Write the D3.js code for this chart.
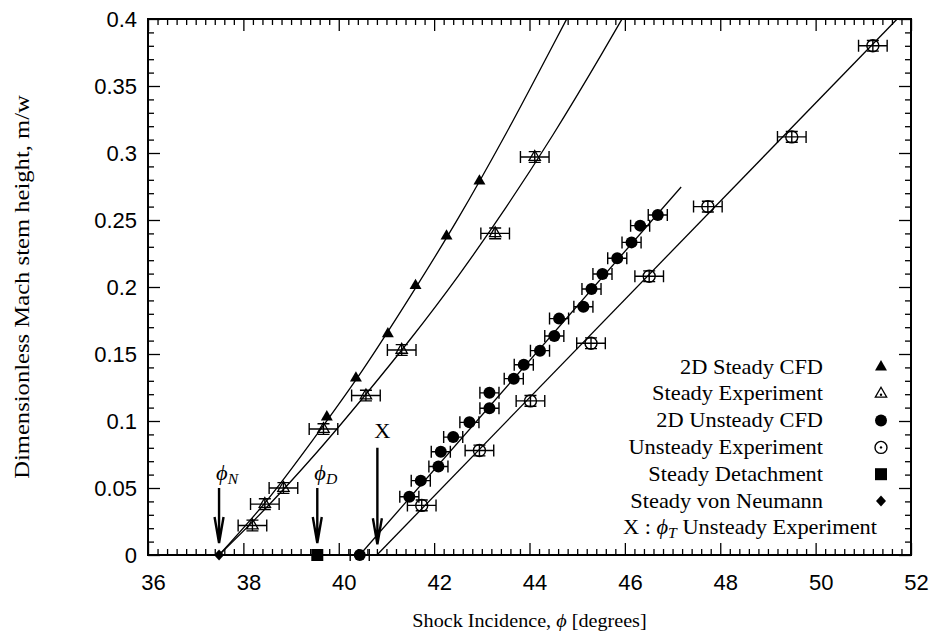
<!DOCTYPE html>
<html><head><meta charset="utf-8">
<script src="https://cdn.jsdelivr.net/npm/d3@7"></script>
<style>body{margin:0;background:#fff} svg{display:block}</style>
</head><body><svg id="c" width="933" height="639"></svg>
<script>
// ---------- data ----------
const steadyCFD = [[39.75,0.103],[40.36,0.132],[41.03,0.165],[41.61,0.201],[42.26,0.238],[42.95,0.279]];
const steadyExp = [[38.19,0.022],[38.45,0.038],[38.84,0.050],[39.68,0.094],[40.57,0.119],[41.32,0.153],[43.28,0.240],[44.11,0.297]];
const unsteadyCFD = [[40.44,0],[41.48,0.0435],[41.72,0.0555],[42.09,0.066],[42.14,0.077],[42.40,0.088],[42.74,0.099],
  [43.16,0.1095],[43.16,0.121],[43.67,0.1316],[43.88,0.142],[44.22,0.1525],[44.52,0.1634],[44.62,0.1764],[45.13,0.1853],
  [45.30,0.1985],[45.53,0.2097],[45.84,0.2214],[46.14,0.2333],[46.32,0.2458],[46.69,0.2537]];
const unsteadyExp = [[41.74,0.037],[42.95,0.078],[44.02,0.115],[45.29,0.158],[46.51,0.208],[47.74,0.260],[49.50,0.312],[51.20,0.380]];
const detachment = [[39.55,0]];
const vonNeumann = [[37.49,0]];
const xErrSteadyExp = 0.3, xErrUnsteadyCFD = 0.2, xErrUnsteadyExp = 0.3, yErrExp = 0.004;

const fitSteadyCFD = [[37.49,0],[38.5,0.041],[39.5,0.088],[40.5,0.138],[41.5,0.193],[42.5,0.251],[43.5,0.314],[44.5,0.381],[44.78,0.4]];
const fitSteadyExp = [[37.49,0],[38.5,0.036],[39.5,0.075],[40.5,0.117],[41.5,0.161],[42.5,0.208],[43.5,0.259],[44.5,0.314],[45.5,0.373],[45.94,0.4]];
const fitUnsteadyCFD = [[40.44,0],[47.18,0.2746]];
const fitUnsteadyExp = [[40.8,0],[51.71,0.4]];

const xMajor = [36,38,40,42,44,46,48,50,52];
const yMajor = [0,0.05,0.1,0.15,0.2,0.25,0.3,0.35,0.4];
const yLabels = ["0","0.05","0.1","0.15","0.2","0.25","0.3","0.35","0.4"];

const arrows = [
  {x:37.49, top:0.050, tip:0.009, label:"N", ly:0.056, sym:true},
  {x:39.55, top:0.050, tip:0.009, label:"D", ly:0.056, sym:true},
  {x:40.81, top:0.080, tip:0.008, label:"X", ly:0.087, sym:false}
];
const legendItems = ["2D Steady CFD","Steady Experiment","2D Unsteady CFD","Unsteady Experiment","Steady Detachment","Steady von Neumann"];
const legendMarks = ["triFill","triOpen","dotFill","dotOpen","square","diamond"];

// ---------- layout ----------
const W = 933, H = 639;
const m = {l:148, r:22, t:19, b:84};
const svg = d3.select("#c");
const x = d3.scaleLinear().domain([36,52]).range([m.l, W-m.r]);
const y = d3.scaleLinear().domain([0,0.4]).range([H-m.b, m.t]);
const serif = "'Liberation Serif','Times New Roman',serif";
const sans = "'Liberation Sans',Arial,sans-serif";
const stretch = 1.12;

const xMinor = d3.range(36,52.001,0.2).filter(v => Math.abs(v/2 - Math.round(v/2)) > 1e-6);
const yMinor = d3.range(0,0.4001,0.01).filter(v => Math.abs(v/0.05 - Math.round(v/0.05)) > 1e-6);

function styleAxis(g){ g.select(".domain").remove(); g.selectAll("line").attr("stroke","#000").attr("stroke-width",1.3); }

// bottom
svg.append("g").attr("transform",`translate(0,${y(0)})`)
  .call(d3.axisBottom(x).tickValues(xMajor).tickSize(-12).tickPadding(19).tickFormat(d3.format("d")))
  .call(styleAxis).call(g=>g.selectAll("text").attr("font-family",sans).attr("font-size",22).attr("dx",5).attr("fill","#000"));
svg.append("g").attr("transform",`translate(0,${y(0)})`)
  .call(d3.axisBottom(x).tickValues(xMinor).tickSize(-6).tickFormat("")).call(styleAxis);
// top
svg.append("g").attr("transform",`translate(0,${y(0.4)})`)
  .call(d3.axisTop(x).tickValues(xMajor).tickSize(-12).tickFormat("")).call(styleAxis);
svg.append("g").attr("transform",`translate(0,${y(0.4)})`)
  .call(d3.axisTop(x).tickValues(xMinor).tickSize(-6).tickFormat("")).call(styleAxis);
// left
svg.append("g").attr("transform",`translate(${x(36)},0)`)
  .call(d3.axisLeft(y).tickValues(yMajor).tickSize(-12).tickPadding(11).tickFormat((d,i)=>yLabels[i]))
  .call(styleAxis).call(g=>g.selectAll("text").attr("font-family",sans).attr("font-size",22).attr("fill","#000"));
svg.append("g").attr("transform",`translate(${x(36)},0)`)
  .call(d3.axisLeft(y).tickValues(yMinor).tickSize(-6).tickFormat("")).call(styleAxis);
// right
svg.append("g").attr("transform",`translate(${x(52)},0)`)
  .call(d3.axisRight(y).tickValues(yMajor).tickSize(-12).tickFormat("")).call(styleAxis);
svg.append("g").attr("transform",`translate(${x(52)},0)`)
  .call(d3.axisRight(y).tickValues(yMinor).tickSize(-6).tickFormat("")).call(styleAxis);

// ---------- fit curves ----------
const plot = svg.append("g");
const line = d3.line().x(d=>x(d[0])).y(d=>y(d[1])).curve(d3.curveMonotoneX);
[fitSteadyCFD, fitSteadyExp, fitUnsteadyCFD, fitUnsteadyExp].forEach(f=>{
  plot.append("path").attr("d", line(f)).attr("fill","none").attr("stroke","#000").attr("stroke-width",1.3);
});

// ---------- error bars ----------
function xErrBars(data, err, withY){
  const g = plot.append("g").attr("stroke","#000").attr("stroke-width",1.4).attr("fill","none");
  data.forEach(d=>{
    const cx = x(d[0]), cy = y(d[1]), x0 = x(d[0]-err), x1 = x(d[0]+err);
    let p = `M${x0},${cy}H${x1}M${x0},${cy-6}V${cy+6}M${x1},${cy-6}V${cy+6}`;
    if (withY){
      const y0 = y(d[1]+yErrExp), y1 = y(d[1]-yErrExp);
      p += `M${cx},${y0}V${y1}M${cx-6},${y0}H${cx+6}M${cx-6},${y1}H${cx+6}`;
    }
    g.append("path").attr("d", p);
  });
}
xErrBars(steadyExp, xErrSteadyExp, true);
xErrBars(unsteadyCFD, xErrUnsteadyCFD, false);
xErrBars(unsteadyExp, xErrUnsteadyExp, true);

// ---------- markers ----------
function mark(g, type, cx, cy){
  if (type==="triFill") g.append("path").attr("d",d3.symbol(d3.symbolTriangle, 62)()).attr("transform",`translate(${cx},${cy})`).attr("fill","#000");
  else if (type==="triOpen") g.append("path").attr("d",d3.symbol(d3.symbolTriangle,56)()).attr("transform",`translate(${cx},${cy})`).attr("fill","none").attr("stroke","#000").attr("stroke-width",1.3);
  else if (type==="dotFill") g.append("circle").attr("cx",cx).attr("cy",cy).attr("r",6).attr("fill","#000");
  else if (type==="dotOpen") g.append("circle").attr("cx",cx).attr("cy",cy).attr("r",6).attr("fill","none").attr("stroke","#000").attr("stroke-width",1.4);
  else if (type==="square") g.append("rect").attr("x",cx-6).attr("y",cy-6).attr("width",12).attr("height",12).attr("fill","#000");
  else if (type==="diamond") g.append("path").attr("d",`M${cx},${cy-5.5}L${cx+5},${cy}L${cx},${cy+5.5}L${cx-5},${cy}Z`).attr("fill","#000");
}
const mk = plot.append("g");
steadyExp.forEach(d=>mark(mk,"triOpen",x(d[0]),y(d[1])));
steadyCFD.forEach(d=>mark(mk,"triFill",x(d[0]),y(d[1])));
unsteadyCFD.forEach(d=>mark(mk,"dotFill",x(d[0]),y(d[1])));
unsteadyExp.forEach(d=>mark(mk,"dotOpen",x(d[0]),y(d[1])));
detachment.forEach(d=>mark(mk,"square",x(d[0]),y(d[1])));
vonNeumann.forEach(d=>mark(mk,"diamond",x(d[0]),y(d[1])));

// ---------- arrows & labels ----------
arrows.forEach(a=>{
  const ax = x(a.x), yt = y(a.top), yp = y(a.tip);
  svg.append("path").attr("d",`M${ax},${yt}V${yp}M${ax-4.5},${yp-26}L${ax},${yp}L${ax+4.5},${yp-26}`)
    .attr("fill","none").attr("stroke","#000").attr("stroke-width",2.4).attr("stroke-linejoin","miter");
  const t = svg.append("text").attr("font-family",serif).attr("font-size",20).attr("fill","#000")
    .attr("text-anchor", a.sym ? "start":"middle")
    .attr("transform",`translate(${a.sym ? ax-3 : ax+5},${y(a.ly)}) scale(${stretch},1)`);
  if (a.sym){
    t.append("tspan").attr("font-style","italic").text("ϕ");
    t.append("tspan").attr("font-style","italic").attr("font-size",14).attr("dy",4).text(a.label);
  } else t.text(a.label);
});

// ---------- legend ----------
const ly0 = 367, lstep = 26.8;
legendItems.forEach((s,i)=>{
  const yy = ly0 + i*lstep;
  svg.append("text").attr("font-family",serif).attr("font-size",20).attr("fill","#000").attr("text-anchor","end")
    .attr("transform",`translate(823,${yy+6.5}) scale(${stretch},1)`).text(s);
  mark(svg, legendMarks[i], 881, yy);
  if (legendMarks[i]==="triOpen" || legendMarks[i]==="dotOpen")
    svg.append("circle").attr("cx",881).attr("cy",yy+(legendMarks[i]==="triOpen"?1:0)).attr("r",1.2).attr("fill","#000");
});
{
  const yy = ly0 + 6*lstep;
  const t = svg.append("text").attr("font-family",serif).attr("font-size",20).attr("fill","#000").attr("text-anchor","end")
    .attr("transform",`translate(877,${yy+6.5}) scale(${stretch},1)`);
  t.append("tspan").text("X : ");
  t.append("tspan").attr("font-style","italic").text("ϕ");
  t.append("tspan").attr("font-style","italic").attr("font-size",14).attr("dy",4).text("T");
  t.append("tspan").attr("dy",-4).text(" Unsteady Experiment");
}

// ---------- frame ----------
svg.append("rect").attr("x",x(36)).attr("y",y(0.4)).attr("width",x(52)-x(36)).attr("height",y(0)-y(0.4))
  .attr("fill","none").attr("stroke","#000").attr("stroke-width",2);

// ---------- axis titles ----------
svg.append("text").attr("font-family",serif).attr("font-size",18).attr("fill","#000").attr("text-anchor","middle")
  .attr("transform",`translate(${(x(36)+x(52))/2},627) scale(${stretch},1)`)
  .call(t=>{ t.append("tspan").text("Shock Incidence, "); t.append("tspan").attr("font-style","italic").text("ϕ"); t.append("tspan").text(" [degrees]"); });
svg.append("text").attr("font-family",serif).attr("font-size",22).attr("fill","#000").attr("text-anchor","middle")
  .attr("transform",`translate(29,${(y(0)+y(0.4))/2}) rotate(-90) scale(${stretch},1)`)
  .text("Dimensionless Mach stem height, m/w");
</script></body></html>
